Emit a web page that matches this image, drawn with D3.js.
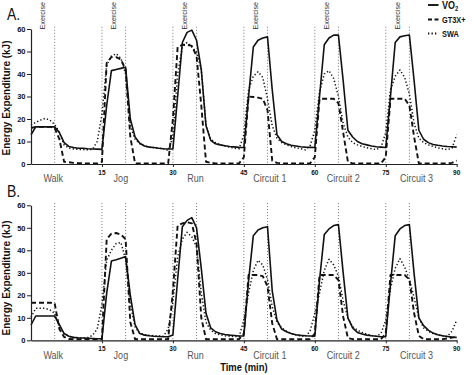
<!DOCTYPE html>
<html>
<head>
<meta charset="utf-8">
<script src="https://cdn.jsdelivr.net/npm/d3@7"></script>
<style>
  body { margin: 0; background: #fff; }
  svg { display: block; }
</style>
</head>
<body>
<div id="chart"></div>
<script>
/* Time axis (min) */
var minutes = [
  0, 1, 2, 3, 4, 5, 6, 7, 8, 9, 10, 11, 12, 13, 14,
  15, 16, 17, 18, 19, 20, 21, 22, 23, 24, 25, 26, 27, 28, 29,
  30, 31, 32, 33, 34, 35, 36, 37, 38, 39, 40, 41, 42, 43, 44,
  45, 46, 47, 48, 49, 50, 51, 52, 53, 54, 55, 56, 57, 58, 59,
  60, 61, 62, 63, 64, 65, 66, 67, 68, 69, 70, 71, 72, 73, 74,
  75, 76, 77, 78, 79, 80, 81, 82, 83, 84, 85, 86, 87, 88, 89,
  90
];

/* Panel A */
var aVO2 = [
  13, 16.5, 16.5, 16.5, 16.5, 16.5, 14, 9.5, 7.8, 7.3, 7, 7, 6.8, 6.7, 6.6,
  6.5, 26, 41.5, 42, 42.5, 43, 20, 12, 9.2, 8, 7.5, 7.3, 7, 6.8, 6.7,
  6.7, 30, 54, 58.5, 59.5, 55, 42, 17, 10.5, 9, 8.5, 8.1, 7.8, 7.6, 7.4,
  7.3, 30, 52, 55, 56, 56.5, 33, 13, 10, 9, 8.3, 8, 7.7, 7.5, 7.4,
  7.3, 30, 53, 56, 57.3, 57.3, 37, 15, 12, 10, 9, 8.5, 8, 7.7, 7.5,
  7.3, 30, 54, 56.5, 57, 57.3, 37, 15, 11, 9.5, 8.7, 8.3, 8, 7.8, 7.7,
  7.5
];
var aGT3X = [
  16, 16.5, 16.5, 16.5, 16.5, 16, 11, 1, 0.8, 0.5, 0.4, 0.3, 0.3, 0.3, 0.3,
  1, 45, 47.5, 47.5, 46.5, 42, 12, 0.3, 0.3, 0.3, 0.3, 0.3, 0.3, 0.3, 0.3,
  20, 52, 53, 53, 52.5, 48, 26, 1, 0.5, 0.3, 0.3, 0.3, 0.3, 0.3, 0.3,
  3, 30, 29.8, 29.5, 29, 24, 1.5, 0.5, 0.3, 0.3, 0.3, 0.3, 0.3, 0.3, 0.3,
  3, 29, 29, 29, 29, 27, 14, 1, 0.3, 0.3, 0.3, 0.3, 0.3, 0.3, 0.3,
  3, 29, 29, 29, 29, 26, 12, 0.3, 0.3, 0.3, 0.3, 0.3, 0.3, 0.3, 0.5,
  1.5
];
var aSWA = [
  17.3, 18.5, 19.5, 20.3, 19.5, 17.6, 14, 8.5, 7, 6.7, 6.5, 6.4, 6.3, 6.5, 10,
  22, 44, 48, 49, 47, 40, 17, 11, 9, 8, 7.5, 7.2, 7, 6.8, 6,
  12, 40, 52, 54, 52, 49.7, 42, 17, 11, 9.5, 8.5, 8, 7.5, 7, 6.8,
  13, 33, 39, 41, 38.5, 29, 17, 11.5, 9.5, 8.5, 7.8, 7.2, 6.8, 6.3, 8,
  15, 32, 40, 41.5, 38, 30, 18, 12, 9.5, 8.5, 7.8, 7.2, 6.8, 6.4, 7.5,
  14, 33, 39, 41.8, 38.5, 31, 18, 11.5, 9.5, 8.5, 7.8, 7.2, 6.8, 6.4, 7,
  13
];

/* Panel B */
var bVO2 = [
  6.8, 10.8, 10.8, 10.8, 10.8, 10.8, 7, 3, 1.8, 1.3, 1.1, 1, 0.9, 0.8, 0.7,
  0.7, 21, 35.2, 35.8, 36.5, 37.2, 20, 7, 3, 2.3, 2, 1.8, 1.7, 1.6, 1.6,
  2.4, 27, 50.5, 53.3, 54.5, 50, 32, 12, 5.5, 3.8, 3, 2.6, 2.3, 2.1, 1.9,
  1.9, 26.5, 46.5, 49, 50, 50.5, 22, 9, 5, 3.8, 3, 2.5, 2.2, 2, 1.9,
  1.8, 26.7, 47, 49.5, 51, 51.4, 30, 10, 5.5, 3.5, 2.8, 2.3, 2, 1.8, 1.6,
  1.6, 25, 46.5, 49.5, 51, 51.4, 29.5, 10, 6.5, 4.5, 3.2, 2.5, 2, 1.7, 1.4,
  1.3
];
var bGT3X = [
  16.7, 16.7, 16.7, 16.7, 16.7, 16.5, 5, 1.5, 0.6, 0.5, 0.5, 0.5, 0.5, 0.5, 0.5,
  0.5, 45, 47.4, 47.7, 47, 45, 8, 0.5, 0.5, 0.5, 0.5, 0.5, 0.5, 0.5, 0.5,
  22, 51, 52, 52.5, 52, 43, 10, 0.5, 0.5, 0.5, 0.5, 0.5, 0.5, 0.5, 0.5,
  3, 29, 29, 29, 28.5, 24, 7.5, 0.5, 0.5, 0.5, 0.5, 0.5, 0.5, 0.5, 0.5,
  3, 29, 29, 29, 29, 26.7, 10.5, 1, 0.5, 0.5, 0.5, 0.5, 0.5, 0.5, 0.5,
  3, 29, 29, 29, 29, 27, 12, 2, 0.5, 0.5, 0.5, 0.5, 0.5, 0.8, 1.2,
  1.6
];
var bSWA = [
  10.2, 14.2, 14.2, 14.2, 13.5, 12, 6, 3, 1.8, 1.2, 1, 1, 1.2, 2.2, 5,
  16, 35.6, 40, 43, 43.5, 36, 16, 6, 3.1, 2.5, 2.2, 2, 1.9, 1.8, 5,
  17, 37, 45, 48, 46, 41.5, 21, 8, 4.5, 3, 2.5, 2, 1.8, 1.7, 1.6,
  9, 21, 31, 35.6, 33.5, 27, 15, 8, 5.5, 4, 3, 2.4, 2, 1.7, 4,
  12, 21, 31, 36, 33.5, 28.5, 17.5, 10, 6, 4.5, 3.5, 2.7, 2.2, 1.8, 3,
  9, 23, 32, 36.3, 32.5, 27, 19, 10, 5.5, 4, 3, 2.4, 2, 1.7, 4,
  9
];

/* Protocol */
var boutStarts = [0, 15, 30, 45, 60, 75];
var boutLength = 5;
var activities = ['Walk', 'Jog', 'Run', 'Circuit 1', 'Circuit 2', 'Circuit 3'];
var activityLabelAt = [4.7, 19, 34.8, 50.5, 66, 81.5];
var xTicks = [15, 30, 45, 60, 75, 90];
var yTicks = [0, 10, 20, 30, 40, 50, 60];

var seriesNames = ['VO2', 'GT3X+', 'SWA'];

/* ------------------------------------------------------------------ */

var W = 474, H = 375;
var FONT = "'Liberation Sans', Arial, sans-serif";
var SQUASH = 0.82;   // reference text is horizontally compressed

var styles = {
  'VO2':   { width: 1.6, dash: null },
  'GT3X+': { width: 1.9, dash: '5,3' },
  'SWA':   { width: 1.5, dash: '1.3,2.2' }
};

var svg = d3.select('#chart').append('svg')
  .attr('width', W)
  .attr('height', H)
  .style('font-family', FONT);

var x = d3.scaleLinear().domain([0, 90]).range([31, 456.7]);

var panels = [
  { name: 'A.', nameY: 20, top: 29, bottom: 164, series: [aVO2, aGT3X, aSWA],
    exercise: true, tickY: 174.5, catY: 182, titleY: 98, time: false },
  { name: 'B.', nameY: 197, top: 205.3, bottom: 340.3, series: [bVO2, bGT3X, bSWA],
    exercise: false, tickY: 350.5, catY: 359, titleY: 278, time: true }
];

function squashText(sel, px, py) {
  return sel.attr('transform', 'translate(' + px + ',' + py + ') scale(' + SQUASH + ',1)');
}

panels.forEach(function (p) {
  var y = d3.scaleLinear().domain([0, 60]).range([p.bottom, p.top]);
  var g = svg.append('g');

  /* Bout boundary lines */
  var marks = [];
  boutStarts.forEach(function (s) {
    if (s > 0) marks.push(s);
    marks.push(s + boutLength);
  });
  g.selectAll('.bound')
    .data(marks)
    .join('line')
    .attr('x1', function (d) { return x(d); })
    .attr('x2', function (d) { return x(d); })
    .attr('y1', y(61))
    .attr('y2', y(0))
    .attr('stroke', '#777')
    .attr('stroke-width', 1)
    .attr('stroke-dasharray', '1,2');

  /* Exercise labels (rotated, squashed along their length) */
  if (p.exercise) {
    g.selectAll('.ex')
      .data(boutStarts)
      .join('text')
      .attr('transform', function (d) {
        return 'translate(' + x(d + 2.4) + ',' + (y(60) + 0.5) + ') rotate(-90) scale(0.9,1)';
      })
      .attr('dy', '0.35em')
      .attr('font-size', 8)
      .attr('fill', '#333')
      .text('Exercise');
  }

  /* Series */
  p.series.forEach(function (vals, i) {
    var st = styles[seriesNames[i]];
    var line = d3.line()
      .x(function (d, k) { return x(minutes[k]); })
      .y(function (d) { return y(d); });
    g.append('path')
      .datum(vals)
      .attr('d', line)
      .attr('fill', 'none')
      .attr('stroke', '#111')
      .attr('stroke-width', st.width)
      .attr('stroke-linejoin', 'round')
      .attr('stroke-dasharray', st.dash);
  });

  /* Axes */
  var yAx = g.append('g')
    .attr('transform', 'translate(' + x(0) + ',0)')
    .call(d3.axisLeft(y).tickValues(yTicks).tickSize(4).tickSizeOuter(0).tickPadding(1.5));
  yAx.attr('font-family', FONT).attr('font-size', 7.5).attr('font-weight', 'bold');

  var xAx = g.append('g')
    .attr('transform', 'translate(0,' + y(0) + ')')
    .call(d3.axisBottom(x).tickValues(xTicks).tickSize(3).tickSizeOuter(0).tickFormat(''));

  [yAx, xAx].forEach(function (a) {
    a.select('.domain').attr('stroke', '#222').attr('stroke-width', 1.2);
    a.selectAll('.tick line').attr('stroke', '#222');
    a.selectAll('.tick text').attr('fill', '#111');
  });

  g.selectAll('.xt')
    .data(xTicks)
    .join('text')
    .attr('x', function (d) { return x(d); })
    .attr('y', p.tickY)
    .attr('text-anchor', 'middle')
    .attr('font-size', 6.5)
    .attr('font-weight', 'bold')
    .attr('fill', '#111')
    .text(function (d) { return d; });

  /* Activity labels */
  g.selectAll('.cat')
    .data(activities)
    .join('text')
    .each(function (d, i) { squashText(d3.select(this), x(activityLabelAt[i]), p.catY); })
    .attr('text-anchor', 'middle')
    .attr('font-size', 11)
    .attr('fill', '#555')
    .text(function (d) { return d; });

  /* Panel letter */
  squashText(g.append('text'), 7, p.nameY)
    .attr('font-size', 17)
    .attr('fill', '#111')
    .text(p.name);

  /* Y title */
  g.append('text')
    .attr('transform', 'translate(6.5,' + p.titleY + ') rotate(-90)')
    .attr('dy', '0.35em')
    .attr('text-anchor', 'middle')
    .attr('font-size', 10)
    .attr('font-weight', 'bold')
    .attr('fill', '#111')
    .text('Energy Expenditure (kJ)');

  if (p.time) {
    squashText(g.append('text'), x(45), 370.5)
      .attr('text-anchor', 'middle')
      .attr('font-size', 11.5)
      .attr('font-weight', 'bold')
      .attr('fill', '#111')
      .text('Time (min)');
  }
});

/* Legend */
var legendY = [5, 19.5, 33.5];
var lg = svg.append('g');
seriesNames.forEach(function (name, i) {
  var st = styles[name];
  lg.append('line')
    .attr('x1', 428).attr('x2', 438.5)
    .attr('y1', legendY[i]).attr('y2', legendY[i])
    .attr('stroke', '#111')
    .attr('stroke-width', st.width + 0.3)
    .attr('stroke-dasharray', st.dash === '5,3' ? '4,2.5' : st.dash);
  var t = squashText(lg.append('text'), 442, legendY[i])
    .attr('dy', '0.35em')
    .attr('font-weight', 'bold')
    .attr('font-size', i === 0 ? 11 : 9)
    .attr('fill', '#111');
  if (name === 'VO2') {
    t.append('tspan').text('VO');
    t.append('tspan').attr('font-size', 7).attr('dy', 2.5).text('2');
  } else {
    t.text(name);
  }
});
</script>
</body>
</html>
